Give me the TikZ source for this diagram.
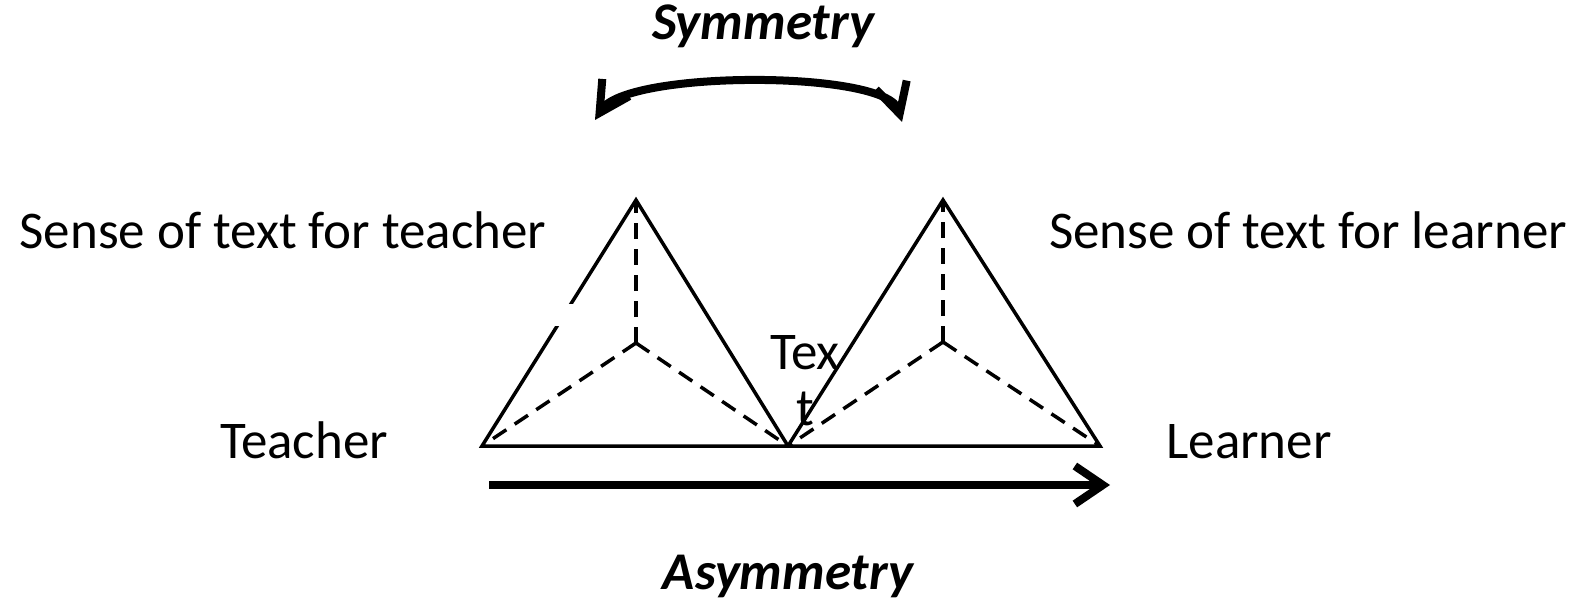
\documentclass[tikz,border=0pt]{standalone}
\usepackage{fontspec}
\setmainfont{Carlito}
\usetikzlibrary{arrows.meta}

\begin{document}
\begin{tikzpicture}[x=1pt, y=-1pt, line join=miter,
  every node/.style={font=\fontsize{53}{56}\selectfont, inner sep=0pt},
  edge/.style={line width=3.5pt},
  inner/.style={line width=3.5pt, dash pattern=on 16pt off 10pt},
  bold label/.style={font=\fontsize{53}{56}\selectfont\bfseries\itshape}]
\useasboundingbox (0,0) rectangle (1580,604);
% teacher triangle
\coordinate (tA) at (636,200);
\coordinate (tL) at (482,446);
\coordinate (tR) at (788,446);
\coordinate (tC) at (636,343);
% learner triangle
\coordinate (lA) at (943,200);
\coordinate (lL) at (788,446);
\coordinate (lR) at (1100,446);
\coordinate (lC) at (943,342);
\draw[edge] (tA) -- (tL) -- (tR) -- cycle;
\fill[white] (553,304) rectangle (575,326);
\draw[edge] (lA) -- (lL) -- (lR) -- cycle;
\draw[inner] (tC) -- (tA);
\draw[inner] (tC) -- (tL);
\draw[inner] (tC) -- (tR);
\draw[inner] (lC) -- (lA);
\draw[inner] (lC) -- (lL);
\draw[inner] (lC) -- (lR);
% labels
\node[anchor=base] (senseT) at (283,249) {Sense of text for teacher};
\node[anchor=base] (senseL) at (1308,249) {Sense of text for learner};
\node[anchor=base] (teacher) at (304,458) {Teacher};
\node[anchor=base] (learner) at (1249,458) {Learner};
\node[anchor=base, align=center] (text) at (805,425) {Tex\\t};
\node[bold label, anchor=base] (sym) at (763,40) {Symmetry};
\node[bold label, anchor=base] (asym) at (788,589) {Asymmetry};
% arrows
\coordinate (symL) at (595,120);
\coordinate (symR) at (902,122);
\draw[line width=8pt, {Straight Barb[length=30pt,width=32pt]}-{Straight Barb[length=30pt,width=32pt]}]
  (symL) .. controls (627,70) and (887,70) .. (symR);
\coordinate (asymL) at (489,485);
\coordinate (asymR) at (1110,485);
\draw[line width=8pt, -{Straight Barb[length=28pt,width=38pt]}] (asymL) -- (asymR);
\end{tikzpicture}
\end{document}
